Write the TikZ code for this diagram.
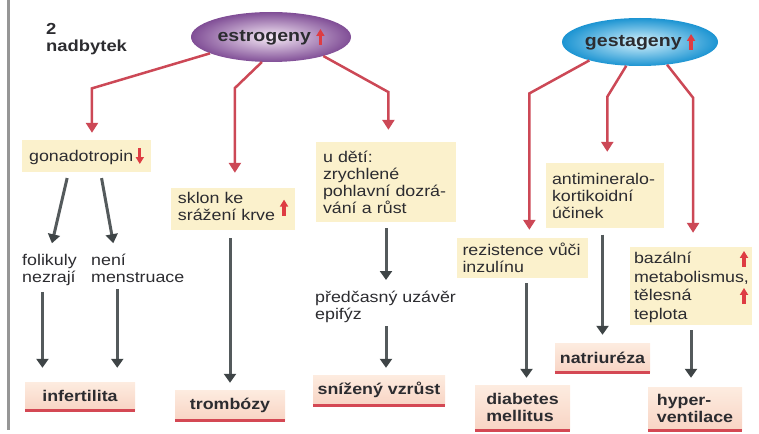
\documentclass[tikz,border=0pt]{standalone}
\usepackage{fontspec}
\setmainfont{Liberation Sans}[FakeStretch=1.15]
\usetikzlibrary{arrows.meta,shapes.geometric}

\definecolor{boxyellow}{RGB}{251,241,204}
\definecolor{resulttop}{RGB}{253,236,224}
\definecolor{resultbottom}{RGB}{248,212,196}
\definecolor{ulinered}{RGB}{212,72,84}
\definecolor{arrowred}{RGB}{204,72,86}
\definecolor{arrowgrey}{RGB}{84,90,92}
\definecolor{headgrey}{RGB}{62,68,70}
\definecolor{markred}{RGB}{222,60,66}
\definecolor{textgrey}{RGB}{44,44,48}
\definecolor{estrout}{RGB}{128,78,150}
\definecolor{estrin}{RGB}{246,234,246}
\definecolor{gestout}{RGB}{28,148,210}
\definecolor{gestin}{RGB}{214,242,252}
\definecolor{framegrey}{RGB}{150,150,150}

\newcommand{\upmark}{\tikz[baseline=0pt]\draw[markred, line width=3.2pt, -{Triangle[width=8pt,length=7pt]}] (0,-3pt) -- (0,13pt);}
\newcommand{\downmark}{\tikz[baseline=0pt]\draw[markred, line width=3.2pt, -{Triangle[width=8pt,length=7pt]}] (0,13pt) -- (0,-3pt);}

\begin{document}
\begin{tikzpicture}[x=1pt, y=-1pt, >={Triangle[width=12pt,length=9pt]},
    every node/.style={font=\fontsize{15.5}{17}\selectfont, text=textgrey},
    effect/.style={fill=boxyellow, align=left, inner xsep=7pt, inner ysep=0pt},
    result/.style={top color=resulttop, bottom color=resultbottom, align=left,
        inner sep=0pt, font=\bfseries\fontsize{15.5}{17}\selectfont},
    hormone/.style={ellipse, inner sep=0pt, minimum width=160pt, minimum height=50pt,
        font=\bfseries\fontsize{17}{19}\selectfont},
    plain/.style={anchor=north west, align=left, inner sep=0pt},
    redarr/.style={-{Triangle[width=12pt,length=10pt]}, draw=arrowred, line width=2.5pt},
    greyarr/.style={-{Triangle[width=12pt,length=9pt,color=headgrey]}, draw=arrowgrey, line width=3pt},
    uline/.style={draw=ulinered, line width=3pt}]
    \useasboundingbox (0,0) rectangle (759,433);

    \draw[framegrey, line width=3pt] (8,0) -- (8,430);

    \node[plain, font=\bfseries\fontsize{16}{17}\selectfont] (tag) at (46,23) {2\\nadbytek};

    % hormones
    \node[hormone, inner color=estrin, outer color=estrout] (estr) at (271,37) {estrogeny \upmark};
    \node[hormone, inner color=gestin, outer color=gestout, minimum width=156pt,
        minimum height=48pt] (gest) at (640,42) {gestageny \upmark};

    % effects
    \node[effect, minimum width=123pt, minimum height=32pt] (gonad) at (86.5,156) {gonadotropin\,\downmark};
    \node[effect, minimum width=120pt, minimum height=42pt] (sklon) at (233,209)
        {\begin{tabular}{@{}l@{}}sklon ke\\srážení krve\end{tabular}\hspace{5pt}\upmark};
    \node[effect, text width=126pt, minimum height=80pt] (udeti) at (386,182)
        {u dětí:\\zrychlené\\pohlavní dozrá-\\vání a růst};
    \node[effect, text width=106pt, inner xsep=6pt, minimum height=65pt] (antimin) at (605,195.5)
        {antimineralo-\\kortikoidní\\účinek};
    \node[effect, text width=120pt, inner xsep=5.5pt, minimum height=40pt] (rezist) at (522.5,258)
        {rezistence vůči\\inzulínu};
    \node[effect, text width=114pt, inner xsep=4pt, minimum height=78pt,
        font=\fontsize{15.5}{18.5}\selectfont] (bazal) at (691,286)
        {bazální\hfill\upmark\\metabolismus,\\tělesná\hfill\upmark\\teplota};

    \node[plain] (folik) at (22,254) {folikuly\\nezrají};
    \node[plain] (neni) at (91,254) {není\\menstruace};
    \node[plain] (predc) at (315,291) {předčasný uzávěr\\epifýz};

    % results
    \node[result, minimum width=110pt, minimum height=28pt] (infert) at (80,396) {infertilita};
    \node[result, minimum width=110pt, minimum height=30pt] (tromb) at (230,405) {trombózy};
    \node[result, minimum width=132pt, minimum height=30pt] (snizeny) at (379,390) {snížený vzrůst};
    \node[result, minimum width=95pt, minimum height=45pt] (diab) at (522.5,407.5) {diabetes\\mellitus};
    \node[result, minimum width=95pt, minimum height=29pt] (natri) at (602.5,357.5) {natriuréza};
    \node[result, minimum width=94pt, minimum height=43pt] (hyper) at (695,408.5) {hyper-\\ventilace};

    \foreach \n in {infert,tromb,snizeny,diab,natri,hyper}
        \draw[uline] (\n.south west) -- (\n.south east);

    % red arrows from the hormones
    \draw[redarr, shorten >=7pt] (estr.195) -- ++(-118,35) coordinate (e1) -- (e1 |- gonad.north);
    \draw[redarr, shorten >=15pt] (estr.250) -- ++(-27,26) coordinate (e2) -- (e2 |- sklon.north);
    \draw[redarr, shorten >=12pt] (estr.340) -- ++(65,36) coordinate (e3) -- (e3 |- udeti.north);
    \draw[redarr, shorten >=8pt] (gest.200) -- ++(-60,33) coordinate (g1) -- (g1 |- rezist.north);
    \draw[redarr, shorten >=11pt] (gest.240) -- ++(-19,31) coordinate (g2) -- (g2 |- antimin.north);
    \draw[redarr, shorten >=14pt] (gest.320) -- ++(26,33) coordinate (g3) -- (g3 |- bazal.north);

    % grey arrows to the results
    \draw[greyarr, shorten <=6pt, shorten >=11pt] ([xshift=-18pt]gonad.south) -- (folik.north);
    \draw[greyarr, shorten <=6pt, shorten >=11pt] ([xshift=14pt]gonad.south) -- ([xshift=-22.5pt]neni.north);
    \draw[greyarr, shorten <=6pt, shorten >=14pt] ([xshift=-7pt]folik.south) coordinate (f1) -- (f1 |- infert.north);
    \draw[greyarr, shorten <=6pt, shorten >=14pt] ([xshift=-20.5pt]neni.south) coordinate (f2) -- (f2 |- infert.north);
    \draw[greyarr, shorten <=8pt, shorten >=7pt] (tromb.north |- sklon.south) -- (tromb.north);
    \draw[greyarr, shorten <=6pt, shorten >=11pt] (udeti.south) -- (udeti.south |- predc.north);
    \draw[greyarr, shorten <=3pt, shorten >=7pt] (udeti.south |- predc.south) -- (udeti.south |- snizeny.north);
    \draw[greyarr, shorten <=5pt, shorten >=7pt] ([xshift=4pt]rezist.south) -- ([xshift=4pt]diab.north);
    \draw[greyarr, shorten <=6.5pt, shorten >=8pt] (natri.north |- antimin.south) -- (natri.north);
    \draw[greyarr, shorten <=5pt, shorten >=9pt] (bazal.south) -- (bazal.south |- hyper.north);
\end{tikzpicture}
\end{document}
